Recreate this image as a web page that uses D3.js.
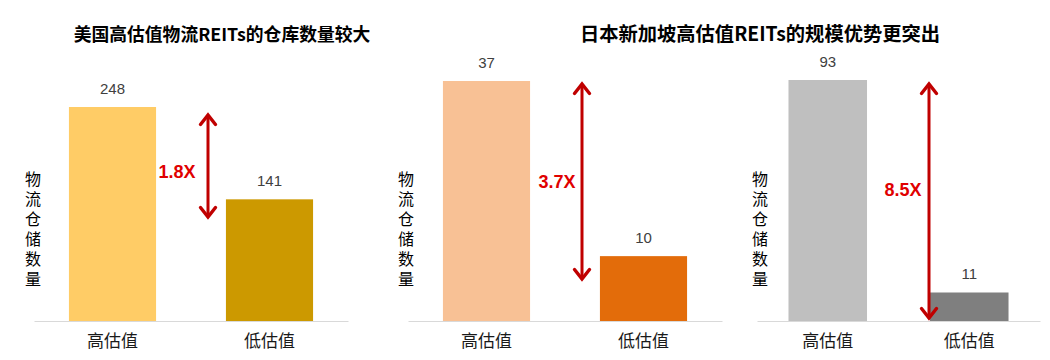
<!DOCTYPE html>
<html>
<head>
<meta charset="utf-8">
<script src="https://cdn.jsdelivr.net/npm/d3@7"></script>
<style>
  html, body { margin: 0; padding: 0; background: #fff; }
  svg { display: block; }
</style>
</head>
<body>
<div id="chart"></div>
<script>
// ---- data ----
const categories = ["高估值", "低估值"];
const usValues = [248, 141];
const jpsgValues = [37, 10];
const sgValues = [93, 11];
const multipliers = ["1.8X", "3.7X", "8.5X"];
const yAxisTitle = "物流仓储数量";
const titles = ["美国高估值物流REITs的仓库数量较大", "日本新加坡高估值REITs的规模优势更突出"];

// ---- styles / layout ----
const W = 1050, H = 360;
const CJK = "'Noto Sans CJK SC', 'Noto Sans', sans-serif";
const NUM = "'Liberation Sans', Arial, sans-serif";
const baseY = 321;

const panels = [
  { values: usValues, colors: ["#FFCC66", "#CC9900"], x0: 34, x1: 348, top: 107,
    ylabX: 33, arrowX: 208, arrowTop: 115, arrowBot: 217, multX: 177, multY: 172 },
  { values: jpsgValues, colors: ["#F8C195", "#E36C0A"], x0: 408, x1: 722, top: 81,
    ylabX: 406, arrowX: 582, arrowTop: 84, arrowBot: 279, multX: 557, multY: 182 },
  { values: sgValues, colors: ["#BFBFBF", "#7F7F7F"], x0: 757, x1: 1040, top: 80,
    ylabX: 760, arrowX: 929, arrowTop: 84, arrowBot: 318, multX: 903, multY: 190 }
];

const svg = d3.select("#chart").append("svg")
  .attr("width", W).attr("height", H);

// titles
svg.append("text").attr("x", 222).attr("y", 33)
  .attr("text-anchor", "middle").attr("dominant-baseline", "central")
  .style("font-family", CJK).style("font-weight", 700).style("font-size", "17.8px")
  .attr("fill", "#000").text(titles[0]);
svg.append("text").attr("x", 760).attr("y", 33)
  .attr("text-anchor", "middle").attr("dominant-baseline", "central")
  .style("font-family", CJK).style("font-weight", 700).style("font-size", "19.3px")
  .attr("fill", "#000").text(titles[1]);

panels.forEach((p, i) => {
  const g = svg.append("g");
  const x = d3.scaleBand().domain(categories).range([p.x0, p.x1])
    .paddingInner(0.445).paddingOuter(0.2225);
  const y = d3.scaleLinear().domain([0, d3.max(p.values)]).range([baseY, p.top]);

  const data = categories.map((c, k) => ({ c, v: p.values[k], col: p.colors[k] }));

  g.selectAll("rect.bar").data(data).join("rect")
    .attr("class", "bar")
    .attr("x", d => x(d.c)).attr("width", x.bandwidth())
    .attr("y", d => y(d.v)).attr("height", d => y(0) - y(d.v))
    .attr("fill", d => d.col);

  // baseline axis
  const axis = d3.axisBottom(x).tickSize(0).tickPadding(14);
  const ag = g.append("g").attr("transform", `translate(0,${baseY})`).call(axis);
  ag.select(".domain").attr("stroke", "#D9D9D9").attr("stroke-width", 1.2);
  ag.selectAll("text")
    .style("font-family", CJK).style("font-size", "17px").attr("fill", "#1a1a1a");

  // value labels
  g.selectAll("text.val").data(data).join("text")
    .attr("class", "val")
    .attr("x", d => x(d.c) + x.bandwidth() / 2)
    .attr("y", d => y(d.v) - 19)
    .attr("text-anchor", "middle").attr("dominant-baseline", "central")
    .style("font-family", NUM).style("font-size", "15px").attr("fill", "#404040")
    .text(d => d.v);

  // vertical y title, one character per line
  g.selectAll("text.ylab").data(Array.from(yAxisTitle)).join("text")
    .attr("class", "ylab")
    .attr("x", p.ylabX).attr("y", (d, k) => 178 + k * 20)
    .attr("text-anchor", "middle").attr("dominant-baseline", "central")
    .style("font-family", CJK).style("font-size", "16px").attr("fill", "#000")
    .text(d => d);

  // arrow
  const red = "#C00000";
  g.append("line")
    .attr("x1", p.arrowX).attr("x2", p.arrowX)
    .attr("y1", p.arrowTop + 2).attr("y2", p.arrowBot - 2)
    .attr("stroke", red).attr("stroke-width", 3);
  const hw = 7.5, hh = 9.5;
  g.append("path")
    .attr("d", `M${p.arrowX - hw},${p.arrowTop + hh} L${p.arrowX},${p.arrowTop} L${p.arrowX + hw},${p.arrowTop + hh}`)
    .attr("fill", "none").attr("stroke", red).attr("stroke-width", 3.4)
    .attr("stroke-linejoin", "miter").attr("stroke-linecap", "round");
  g.append("path")
    .attr("d", `M${p.arrowX - hw},${p.arrowBot - hh} L${p.arrowX},${p.arrowBot} L${p.arrowX + hw},${p.arrowBot - hh}`)
    .attr("fill", "none").attr("stroke", red).attr("stroke-width", 3.4)
    .attr("stroke-linejoin", "miter").attr("stroke-linecap", "round");

  // multiplier label
  g.append("text")
    .attr("x", p.multX).attr("y", p.multY)
    .attr("text-anchor", "middle").attr("dominant-baseline", "central")
    .style("font-family", NUM).style("font-weight", 700).style("font-size", "18px")
    .attr("fill", "#E00000").text(multipliers[i]);
});
</script>
</body>
</html>
